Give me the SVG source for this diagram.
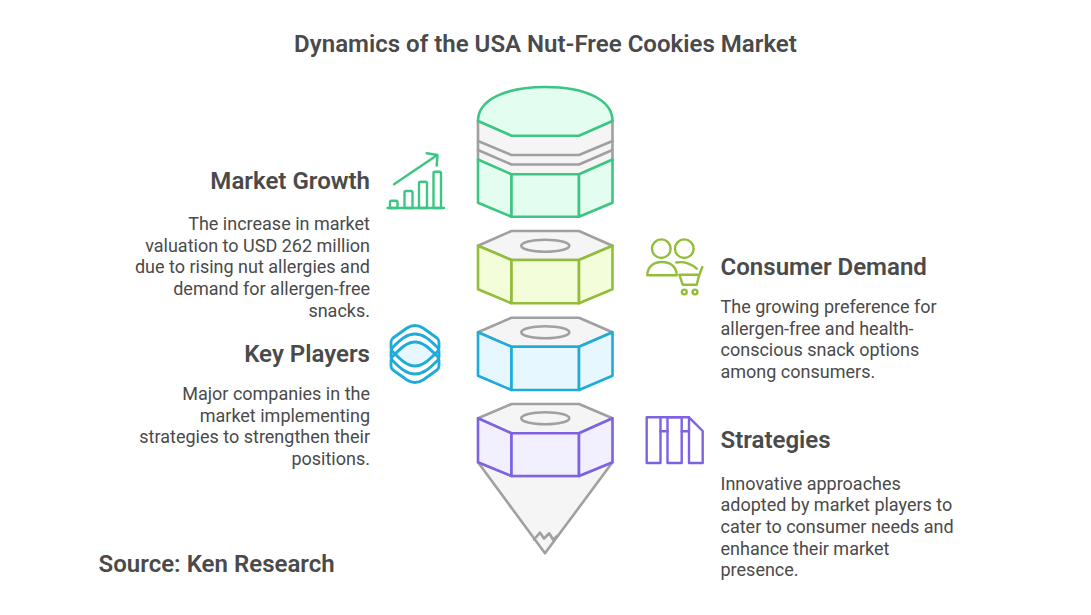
<svg xmlns="http://www.w3.org/2000/svg" width="1091" height="615" viewBox="0 0 1091 615">
<style>
text{font-family:Roboto,"Liberation Sans",sans-serif;fill:#4a4a4a}
.t{font-size:24.050px;font-weight:600}
.h{font-size:24.050px;font-weight:600}
.b{font-size:18px;font-weight:400}
.e{text-anchor:end}
.s{stroke-width:2.6;stroke-linejoin:round;stroke-linecap:round}
.gy{fill:#f5f5f5;stroke:#a0a0a0}
.no{fill:none}
.gr{fill:#e3fdf0;stroke:#3cc583}
.li{fill:#f3fdd9;stroke:#92bd39}
.bl{fill:#e6f7ff;stroke:#1eabda}
.pu{fill:#f2f0ff;stroke:#7e62e1}
.ic{stroke-width:2.4;stroke-linejoin:round;stroke-linecap:round;fill:none}
</style>
<rect width="1091" height="615" fill="#fff"/>
<text class="t" x="545.5" y="52" text-anchor="middle">Dynamics of the USA Nut-Free Cookies Market</text>

<g id="stack-top">
<path fill="#f5f5f5" d="M478 121V173H612.500V121Z"/>
<path class="s gy" d="M478 121V160M612.500 121V160"/>
<path class="s no" stroke="#a0a0a0" d="M478 141L511.500 155H579L612.500 141M478 150L511.500 164.500H579L612.500 150"/>
<path class="s gr" d="M478 159.500L511.500 174.300V216.700L478 202.700Z"/>
<path class="s gr" d="M511.500 174.300H579V216.700H511.500Z"/>
<path class="s gr" d="M579 174.300L612.500 159.500V202.700L579 216.700Z"/>
<path class="s gr" d="M478 121C478 100 505 87 545 87C586 87 612.500 100 612.500 121L579 135.700H511.500Z"/>
</g>

<g id="stack-consumer">
<path class="s gy" d="M478 245.700L511.500 231H579L612.500 245.700L579 260H511.500Z"/>
<ellipse class="s no" stroke="#a0a0a0" cx="545.300" cy="245.700" rx="24" ry="6"/>
<path class="s li" d="M478 245.700L511.500 260V303.300L478 289.300Z"/>
<path class="s li" d="M511.500 260H579V303.300H511.500Z"/>
<path class="s li" d="M579 260L612.500 245.700V289.300L579 303.300Z"/>
</g>

<g id="stack-players">
<path class="s gy" d="M478 332.300L511.500 317.700H579L612.500 332.300L579 346.700H511.500Z"/>
<ellipse class="s no" stroke="#a0a0a0" cx="545.300" cy="332.300" rx="24" ry="6"/>
<path class="s bl" d="M478 332.300L511.500 346.700V390L478 375.700Z"/>
<path class="s bl" d="M511.500 346.700H579V390H511.500Z"/>
<path class="s bl" d="M579 346.700L612.500 332.300V375.700L579 390Z"/>
</g>

<g id="stack-strategies">
<path class="s gy" d="M478 462.300L545 553.300L612.500 462.300L579 476H511.500Z"/>
<path class="s no" stroke="#a0a0a0" d="M534 539.500L540 532.700L544 538.500L549.300 533.300L553 539.500L557.500 535.700"/>
<path class="s gy" d="M478 418.300L511.500 404H579L612.500 418.300L579 433.300H511.500Z"/>
<ellipse class="s no" stroke="#a0a0a0" cx="545.300" cy="418.300" rx="24" ry="6"/>
<path class="s pu" d="M478 418.300L511.500 433.300V476L478 462.300Z"/>
<path class="s pu" d="M511.500 433.300H579V476H511.500Z"/>
<path class="s pu" d="M579 433.300L612.500 418.300V462.300L579 476Z"/>
</g>

<g id="market-growth">
<g class="ic" stroke="#3cc583">
<path d="M387.500 208H444"/>
<path d="M390 208V202.200Q390 200.700 391.500 200.700H396Q397.500 200.700 397.500 202.200V208Z"/>
<path d="M404.500 208V192.500Q404.500 191 406 191H411Q412.500 191 412.500 192.500V208Z"/>
<path d="M419 208V183.200Q419 181.700 420.500 181.700H425.500Q427 181.700 427 183.200V208Z"/>
<path d="M433.500 208V173.200Q433.500 171.700 435 171.700H439.500Q441 171.700 441 173.200V208Z"/>
<path d="M394 184.300L437.300 155M426.700 153.300L437.500 155L436.700 165.700"/>
</g>
<text class="h e" x="370" y="189">Market Growth</text>
<text class="b e"><tspan x="370" y="229.500">The increase in market</tspan><tspan x="370" y="251.500">valuation to USD 262 million</tspan><tspan x="370" y="273">due to rising nut allergies and</tspan><tspan x="370" y="295">demand for allergen-free</tspan><tspan x="370" y="316.500">snacks.</tspan></text>
</g>

<g id="consumer-demand">
<g class="ic" stroke="#92bd39">
<circle cx="661.300" cy="248.700" r="9.300"/>
<circle cx="684.300" cy="248.700" r="9.300"/>
<path d="M647.300 275.300C647.300 267 653 262 662 262C671 262 676.700 267 676.700 275.300Z"/>
<path d="M676.300 262.500C684 261 692 264 696.700 268.700"/>
<path d="M702.300 267L699.300 274.700H679.300L682.700 284.700H696.700L699.300 274.700"/>
<circle cx="684.300" cy="292" r="2.400"/>
<circle cx="695" cy="292" r="2.400"/>
</g>
<text class="h" x="720.500" y="275">Consumer Demand</text>
<text class="b"><tspan x="720.500" y="312.500">The growing preference for</tspan><tspan x="720.500" y="334.500">allergen-free and health-</tspan><tspan x="720.500" y="356">conscious snack options</tspan><tspan x="720.500" y="377.500">among consumers.</tspan></text>
</g>

<g id="key-players">
<path fill="#e6f7ff" d="M392 354C400 346 407 342 415 342C423 342 430 346 438 354C430 362 423 366 415 366C407 366 400 362 392 354Z"/>
<g class="ic" stroke="#1eabda" style="stroke-width:2.800">
<path d="M391 342V348Q391 350 393 352C401 360 407 366 415 366C423 366 429 360 437 352Q439 350 439 348V342Q439 340 437 338L423 328Q415 323 407 328L393 338Q391 340 391 342Z"/>
<path d="M391 351V357Q391 359 393 361C401 369 407 374 415 374C423 374 429 369 437 361Q439 359 439 357V351Q439 349 437 347C429 339 423 334 415 334C407 334 401 339 393 347Q391 349 391 351Z"/>
<path d="M391 360V366Q391 368 393 370L407 380Q415 385 423 380L437 370Q439 368 439 366V360Q439 358 437 356C429 348 423 342 415 342C407 342 401 348 393 356Q391 358 391 360Z"/>
</g>
<text class="h e" x="370" y="362">Key Players</text>
<text class="b e"><tspan x="370" y="399.500">Major companies in the</tspan><tspan x="370" y="421.500">market implementing</tspan><tspan x="370" y="443">strategies to strengthen their</tspan><tspan x="370" y="464.500">positions.</tspan></text>
</g>

<g id="strategies">
<g class="ic" stroke="#7e62e1">
<path d="M646.700 417.300H660.500V463H646.700Z"/>
<path d="M667.500 417.300H681.700V463H667.500Z"/>
<path d="M689 417.300V463H702.700V431L689 417.300Z"/>
<path d="M660.500 431.300H667.500M681.700 431.300H689M660.500 417.300H689"/>
</g>
<text class="h" x="720.500" y="448">Strategies</text>
<text class="b"><tspan x="720.500" y="489.500">Innovative approaches</tspan><tspan x="720.500" y="511">adopted by market players to</tspan><tspan x="720.500" y="533">cater to consumer needs and</tspan><tspan x="720.500" y="554.500">enhance their market</tspan><tspan x="720.500" y="576">presence.</tspan></text>
</g>

<text class="h" x="98.500" y="572">Source: Ken Research</text>
</svg>
